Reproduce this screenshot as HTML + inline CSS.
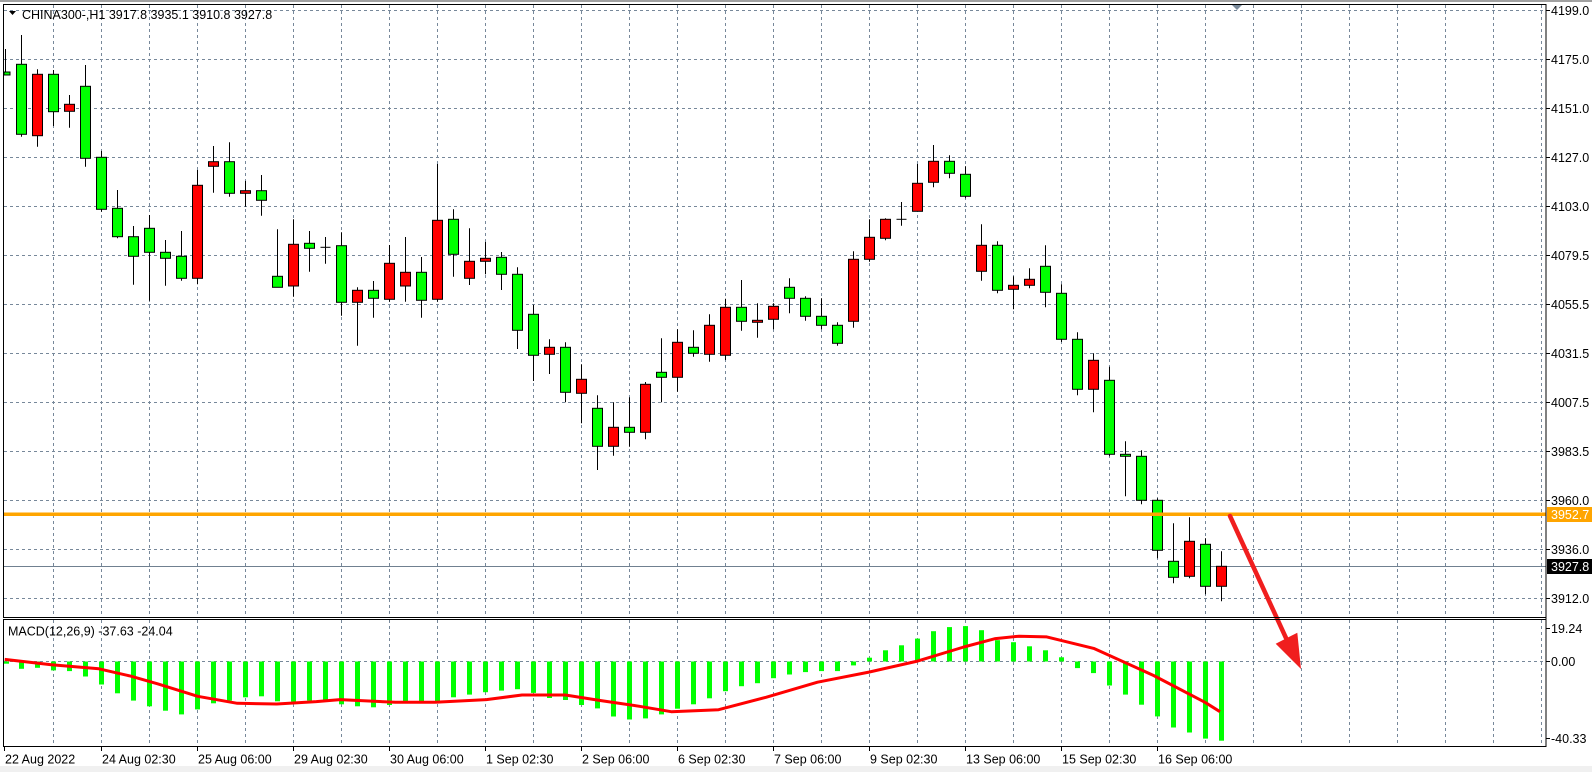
<!DOCTYPE html>
<html><head><meta charset="utf-8"><style>
html,body{margin:0;padding:0;background:#fff;}
svg{display:block;font-family:"Liberation Sans",sans-serif;}
</style></head><body>
<svg id="c" width="1592" height="772" xmlns="http://www.w3.org/2000/svg"></svg>
<script>
var s=[];
function P(x){s.push(x);}
var FS='12.5';
P('<rect x="0" y="0" width="1592" height="772" fill="#fff"/>');
P('<rect x="0" y="0" width="1592" height="2" fill="#a0a0a0"/>');
P('<rect x="0" y="766" width="1592" height="6" fill="#f0f0f0"/>');
var G='stroke="#77889a" stroke-width="1" stroke-dasharray="3,3"';
for(var k=0;k<=31;k++){var x=53.5+48*k;if(x>1545)break;
P('<line x1="'+x+'" y1="5" x2="'+x+'" y2="617" '+G+'/>');
P('<line x1="'+x+'" y1="620" x2="'+x+'" y2="746" '+G+'/>');}
var labs=['4199.0','4175.0','4151.0','4127.0','4103.0','4079.5','4055.5','4031.5','4007.5','3983.5','3960.0','3936.0','3912.0'];
for(var i=0;i<13;i++){var y=598.5-49*(12-i);
P('<line x1="4" y1="'+y+'" x2="1546" y2="'+y+'" '+G+'/>');
P('<line x1="1546" y1="'+y+'" x2="1550" y2="'+y+'" stroke="#000"/>');
P('<text x="1551" y="'+(y+4.5)+'" font-size="'+FS+'" fill="#000">'+labs[i]+'</text>');}
P('<line x1="4" y1="661.5" x2="1546" y2="661.5" '+G+'/>');
P('<line x1="4" y1="566.5" x2="1546" y2="566.5" stroke="#708090" stroke-width="1"/>');
var C=[[1,1,64.3,134.3,35,136.7],[2,0,74.3,135.7,69.3,146.7],[3,1,74.3,111.7,70,126],[4,0,104.3,111.3,95,127.7],[5,1,86.3,158.3,65,166.7],[6,1,157.3,209.3,151,211.7],[7,1,208.3,236.7,190,238.3],[8,1,236.7,256.3,226,284.7],[9,1,228.3,252.3,215,300.7],[10,1,252.3,258.3,240,285.7],[11,1,256.3,278.3,231,280.7],[12,0,185.3,278.3,170,284.3],[13,0,161.7,166.3,146,192.7],[14,1,161.7,193.3,142.3,196.7],[15,0,190.7,193.3,181,206.7],[16,1,190.7,200.3,175,215.7],[17,1,276.3,287.3,229.3,287.3],[18,0,244.3,286,219.3,296.7],[19,1,243.3,248.3,231,271.7],[20,2,247.3,247.3,237,263.7],[21,1,245.7,302.3,232.3,315.7],[22,0,290.3,302.3,287.3,345.7],[23,1,290.3,298.3,281,317.7],[24,0,263.3,299.3,245,301.7],[25,0,272.3,286,237,301.7],[26,1,272.3,300.3,257,317.7],[27,0,220.3,299.3,164,301.7],[28,1,219.3,254.3,209.3,276.7],[29,0,261.3,278.3,228.3,285],[30,0,258.3,261.3,242,274.3],[31,1,257.3,274.3,252,290],[32,1,274.3,330.3,267.3,349],[33,1,314.3,355.3,304.7,381],[34,0,347.3,354.3,339.3,374],[35,1,347.3,392.3,342.3,402.3],[36,0,379.3,393.3,364.3,423.3],[37,1,408.3,446.3,395.3,470],[38,0,427.3,446.3,402.3,455.7],[39,1,427.3,432.3,397.3,446.7],[40,0,384.3,432.3,382,439.3],[41,1,372.3,377.3,338.3,402.3],[42,0,342.3,377.3,329.3,391.7],[43,1,347.3,353.3,330.3,356.7],[44,0,325.3,354.3,314.3,361.7],[45,0,307.3,355.3,298.7,360],[46,1,307.3,321.3,280,330.7],[47,0,320.3,322.3,303.3,337.7],[48,0,306.3,319.3,303.3,329.3],[49,1,287.3,298.3,278.3,313.3],[50,1,298.3,316.3,296.3,320.7],[51,1,316.3,325.3,298.3,329.3],[52,1,325.3,343.3,322.3,345.7],[53,0,259.3,321.3,251.3,327.7],[54,0,237.3,259.3,219.3,261.7],[55,0,219.3,238.3,218.3,240.3],[56,2,219.3,219.3,202,225.7],[57,0,183.3,211.3,164,211.3],[58,0,161.3,182.3,145,187.3],[59,1,161.3,173.3,155.3,178.3],[60,1,174.3,196.3,166.3,198.3],[61,0,245.3,271.3,224.3,280.7],[62,1,245.3,290.3,241.3,293.3],[63,0,285.3,289.3,276.3,309.3],[64,0,279.3,285.3,268.3,288.3],[65,1,266.3,292.3,245.3,307.3],[66,1,293.3,339.3,284.3,342],[67,1,339.3,389.3,332.3,395.3],[68,0,360.3,389.3,353.3,412.3],[69,1,380.3,454.3,366.7,456.3],[70,1,454.3,456.3,441.3,496.3],[71,1,456.3,500.3,450.3,504.3],[72,1,500.3,550.3,498.3,558.3],[73,1,561.3,577.3,523.3,583.3],[74,0,541.3,576.3,517.3,578.3],[75,1,544.3,586.3,538.3,594.3],[76,0,566.3,586.3,551.3,601.3]];
P('<line x1="5.5" y1="49" x2="5.5" y2="75" stroke="#000"/><rect x="4" y="72" width="6" height="3" fill="#00ff00" stroke="#000"/>');
C.forEach(function(c){var x=Math.round(5.3+16*c[0])+0.5;
P('<line x1="'+x+'" y1="'+c[4]+'" x2="'+x+'" y2="'+c[5]+'" stroke="#000" stroke-width="1"/>');
if(c[1]==2){P('<line x1="'+(x-5)+'" y1="'+c[2]+'" x2="'+(x+5)+'" y2="'+c[2]+'" stroke="#000"/>');}
else{var h=Math.max(c[3]-c[2],2);P('<rect x="'+(x-5)+'" y="'+c[2]+'" width="10" height="'+h+'" fill="'+(c[1]?'#00ff00':'#ff0000')+'" stroke="#000" stroke-width="1"/>');}
});
P('<line x1="4" y1="514.3" x2="1546" y2="514.3" stroke="#FFA500" stroke-width="3.5"/>');
var H=[663.7,668.8,667.8,670.4,671.1,676.5,684.5,693.3,700.6,706.3,710.7,714.4,709.4,703.3,700.6,697.3,696.3,701.3,701.6,700.6,700,704.3,706.3,707.3,705,702.3,701.6,701.3,697.3,694.6,692.2,690.6,689.2,692.9,698,700,705,708.4,716.5,719.5,718.4,714.4,708.7,704.3,698.3,691.2,686.2,683.2,678.2,674.5,672.1,671.1,671.1,665.4,657.7,650.3,645.3,638.6,631.2,627.1,626.1,630.2,640.2,642.2,646.3,650.3,657.3,668.1,673.1,685.5,694.6,704.7,716.4,727.5,732.5,738.6,740.7];
H.forEach(function(v,k){var x=Math.round(5.3+16*k)-2;var a=Math.min(v,661.5),b=Math.max(v,661.5);
if(k==0)x=4;
P('<rect x="'+x+'" y="'+a+'" width="5" height="'+(b-a)+'" fill="#00ff00"/>');});
var S=[[4.7,659.4],[51.4,664.7],[98.9,668.8],[130.5,676.1],[158,683.9],[197.7,696.3],[237.3,703.3],[276.8,704],[316.3,701.6],[340,699.6],[395.4,702.3],[435,702.3],[486.4,699.6],[522,695],[565.4,695],[601,700.6],[639.5,706.3],[671.2,711.7],[718.6,709.7],[766,697.3],[817.5,682.2],[868.9,672.1],[916.3,661.4],[963.8,647],[995.4,638.6],[1019.1,636.2],[1046.8,636.9],[1094.3,648.6],[1153.6,675.5],[1205,702.3],[1220,711.7]];
P('<polyline points="'+S.map(function(p){return p.join(',')}).join(' ')+'" fill="none" stroke="#ff0000" stroke-width="3" stroke-linejoin="round"/>');
P('<line x1="1230" y1="516" x2="1286" y2="638" stroke="#f01e1e" stroke-width="4.5" stroke-linecap="round"/>');
P('<polygon points="1275.7,643.7 1297.3,632.7 1301,669" fill="#f01e1e"/>');
P('<rect x="3.5" y="4.5" width="1542.5" height="613" fill="none" stroke="#000" stroke-width="1"/>');
P('<rect x="3.5" y="619.5" width="1542.5" height="127" fill="none" stroke="#000" stroke-width="1"/>');
P('<line x1="1546" y1="4" x2="1546" y2="747" stroke="#000"/>');
P('<polygon points="1232,5 1242,5 1237,10" fill="#7a8a9a"/>');
P('<polygon points="9,11 16,11 12.5,15" fill="#000"/>');
P('<text x="22" y="19" font-size="'+FS+'" fill="#000">CHINA300-,H1  3917.8 3935.1 3910.8 3927.8</text>');
P('<text x="8" y="635.5" font-size="'+FS+'" fill="#000">MACD(12,26,9) -37.63 -24.04</text>');
P('<rect x="1547" y="507" width="45" height="15" fill="#FFA500"/><text x="1551" y="519" font-size="'+FS+'" fill="#fff">3952.7</text>');
P('<rect x="1547" y="559" width="45" height="15" fill="#000"/><text x="1551" y="571" font-size="'+FS+'" fill="#fff">3927.8</text>');
[['19.24',628.5],['0.00',661.5],['-40.33',738.5]].forEach(function(l){
P('<line x1="1546" y1="'+l[1]+'" x2="1550" y2="'+l[1]+'" stroke="#000"/>');
P('<text x="1551" y="'+(l[1]+4.5)+'" font-size="'+FS+'" fill="#000">'+l[0]+'</text>');});
var T=['22 Aug 2022','24 Aug 02:30','25 Aug 06:00','29 Aug 02:30','30 Aug 06:00','1 Sep 02:30','2 Sep 06:00','6 Sep 02:30','7 Sep 06:00','9 Sep 02:30','13 Sep 06:00','15 Sep 02:30','16 Sep 06:00'];
T.forEach(function(t,i){var x=5.3+96*i;if(i==0)x=4.5;else x=Math.round(x)+0.5;
P('<line x1="'+x+'" y1="747" x2="'+x+'" y2="751" stroke="#000"/>');
P('<text x="'+(x+0.5)+'" y="763.5" font-size="'+FS+'" fill="#000">'+t+'</text>');});
document.getElementById('c').innerHTML=s.join('');
</script>
</body></html>
